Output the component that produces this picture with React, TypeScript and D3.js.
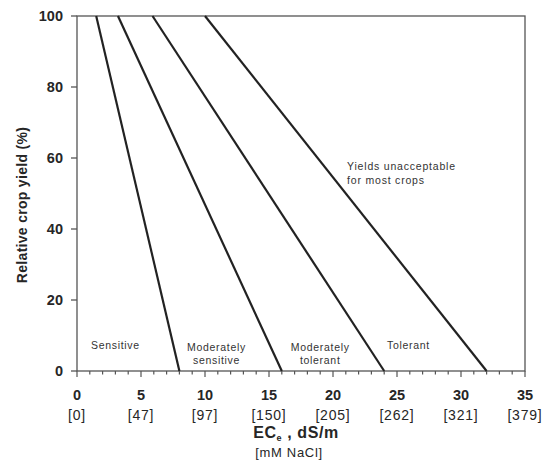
import React from 'react';
import * as d3 from 'd3';

// salt tolerance classes: EC where yield starts to drop (100%) and where it hits 0
const classes = ['Sensitive', 'Moderately sensitive', 'Moderately tolerant', 'Tolerant'];
const ecAt100 = [1.5, 3.2, 5.9, 10.0];
const ecAt0 = [8, 16, 24, 32];

const xTickValues = [0, 5, 10, 15, 20, 25, 30, 35];
const mMLabels = ['[0]', '[47]', '[97]', '[150]', '[205]', '[262]', '[321]', '[379]'];
const yTickValues = [0, 20, 40, 60, 80, 100];

// label lines for each zone (placed in the strip just above the x axis)
const zoneLabels = [['Sensitive'], ['Moderately', 'sensitive'], ['Moderately', 'tolerant'], ['Tolerant']];
const zoneCenters = [3, 10.9, 19, 25.9];

const W = 546;
const H = 468;
const margin = { top: 16, right: 21, bottom: 97, left: 77 };

const App = () => {
  const x = d3.scaleLinear().domain([0, 35]).range([margin.left, W - margin.right]);
  const y = d3.scaleLinear().domain([0, 100]).range([H - margin.bottom, margin.top]);
  const line = d3
    .line<[number, number]>()
    .x((d) => x(d[0]))
    .y((d) => y(d[1]));

  const font = '"Liberation Sans", Arial, sans-serif';
  const ink = '#262626';
  const minor = d3.range(0, 36, 1);

  return (
    <svg
      width={W}
      height={H}
      style={{ position: 'absolute', left: 0, top: 0, background: '#fff' }}
      fontFamily={font}
    >
      {/* frame */}
      <rect
        x={x(0)}
        y={y(100)}
        width={x(35) - x(0)}
        height={y(0) - y(100)}
        fill="none"
        stroke="#555"
        strokeWidth={1.3}
      />

      {/* y ticks */}
      {yTickValues.map((v) => (
        <g key={v}>
          <line x1={x(0) - 6} x2={x(0)} y1={y(v)} y2={y(v)} stroke="#555" strokeWidth={1.3} />
          <text
            x={x(0) - 14}
            y={y(v)}
            dy="0.36em"
            textAnchor="end"
            fontSize={14.5}
            fontWeight="bold"
            fill={ink}
          >
            {v}
          </text>
        </g>
      ))}

      {/* x ticks: minor every 1, major every 5 */}
      {minor.map((v) => (
        <line
          key={v}
          x1={x(v)}
          x2={x(v)}
          y1={y(0)}
          y2={y(0) + (v % 5 === 0 ? 6 : 3.5)}
          stroke="#555"
          strokeWidth={1.2}
        />
      ))}
      {xTickValues.map((v, i) => (
        <g key={v}>
          <text x={x(v)} y={y(0) + 29} textAnchor="middle" fontSize={14.5} fontWeight="bold" fill={ink}>
            {v}
          </text>
          <text
            x={x(v)}
            y={y(0) + 49}
            textAnchor="middle"
            fontSize={14}
            letterSpacing={0.8}
            fill={ink}
          >
            {mMLabels[i]}
          </text>
        </g>
      ))}

      {/* yield lines */}
      {classes.map((c, i) => (
        <path
          key={c}
          d={line([
            [ecAt100[i], 100],
            [ecAt0[i], 0],
          ]) as string}
          fill="none"
          stroke="#222"
          strokeWidth={2.2}
        />
      ))}

      {/* zone labels */}
      {zoneLabels.map((lines, i) => (
        <text
          key={i}
          x={x(zoneCenters[i])}
          y={lines.length === 1 ? y(0) - 22 : y(0) - 20}
          textAnchor="middle"
          fontSize={10.5}
          letterSpacing={0.7}
          fill="#333"
        >
          {lines.map((l, j) => (
            <tspan key={j} x={x(zoneCenters[i])} dy={j === 0 ? 0 : 13}>
              {l}
            </tspan>
          ))}
        </text>
      ))}

      <text x={x(21.1)} y={y(56.5)} fontSize={10.5} letterSpacing={0.8} fill="#333">
        <tspan x={x(21.1)}>Yields unacceptable</tspan>
        <tspan x={x(21.1)} dy={14}>for most crops</tspan>
      </text>

      {/* axis titles */}
      <text
        transform={`translate(27, 205) rotate(-90)`}
        textAnchor="middle"
        fontSize={14}
        fontWeight="bold"
        letterSpacing={0.3}
        fill={ink}
      >
        Relative crop yield (%)
      </text>
      <text x={296} y={438} textAnchor="middle" fontSize={16} fontWeight="bold" letterSpacing={0.6} fill={ink}>
        EC
        <tspan fontSize={9} dy={3}>e</tspan>
        <tspan dy={-3}> , dS/m</tspan>
      </text>
      <text x={289} y={457} textAnchor="middle" fontSize={13} letterSpacing={0.7} fill={ink}>
        [mM NaCl]
      </text>
    </svg>
  );
};

export default App;
